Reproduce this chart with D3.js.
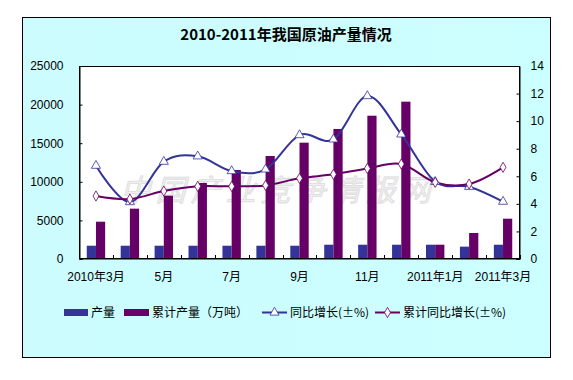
<!DOCTYPE html>
<html><head><meta charset="utf-8">
<script src="https://cdn.jsdelivr.net/npm/d3@7"></script>
<style>body{margin:0;background:#fff}svg{display:block}</style>
</head><body>
<svg id="c" width="573" height="380"></svg>
<script>
const categories = ["2010年3月","4月","5月","6月","7月","8月","9月","10月","11月","12月","2011年1月","2月","2011年3月"];
const tickLabels = ["2010年3月","","5月","","7月","","9月","","11月","","2011年1月","","2011年3月"];
const output = [1720,1720,1720,1720,1720,1720,1720,1850,1850,1850,1850,1600,1850];
const cumOutput = [4830,6520,8200,9850,11530,13340,15070,16840,18560,20380,1850,3370,5220];
const yoy = [6.77,4.13,7.06,7.45,6.38,6.5,8.99,8.68,11.82,9.04,5.6,5.24,4.16];
const cumYoy = [4.57,4.35,4.93,5.27,5.27,5.34,5.85,6.14,6.57,6.89,5.56,5.44,6.65];
const leftTicks = [0,5000,10000,15000,20000,25000];
const rightTicks = [0,2,4,6,8,10,12,14];
const title = "2010-2011年我国原油产量情况";
const seriesNames = ["产量","累计产量（万吨）","同比增长(±%)","累计同比增长(±%)"];

const svg = d3.select("#c");
const blue = "#333399", purple = "#660066";
const cjkFont = "Arial, 'Noto Sans CJK SC', sans-serif";

// frame
const defs = svg.append("defs");
const g1 = defs.append("linearGradient").attr("id","bg").attr("x1","0").attr("x2","1").attr("y1","0").attr("y2","0");
g1.append("stop").attr("offset","0").attr("stop-color","#ccfcfe");
g1.append("stop").attr("offset","1").attr("stop-color","#ccffff");
svg.append("rect").attr("x",22.5).attr("y",17.5).attr("width",528).attr("height",340)
  .attr("fill","url(#bg)").attr("stroke","#000").attr("stroke-width",1);

svg.append("text").attr("x",286).attr("y",40).attr("text-anchor","middle")
  .attr("font-family","'Noto Sans CJK SC', sans-serif").attr("font-weight","bold").attr("font-size",15)
  .text(title);

const L=79, R=520, T=66, B=259;
svg.append("rect").attr("x",L).attr("y",T).attr("width",R-L).attr("height",B-T).attr("fill","#fff");

const x = d3.scaleBand().domain(categories).range([L,R]).paddingInner(0).paddingOuter(0);
const yl = d3.scaleLinear().domain([0,25000]).range([B,T]);
const yr = d3.scaleLinear().domain([0,14]).range([B,T]);

// watermark
svg.append("text").attr("x",278).attr("y",201).attr("text-anchor","middle")
  .attr("font-family","'Noto Sans CJK SC', sans-serif").attr("font-size",30).attr("font-style","italic")
  .attr("letter-spacing",5).attr("fill","#f0f0f0").attr("stroke","#dcdcdc").attr("stroke-width",0.8)
  .text("中国产业竞争情报网");

const bw = 9.2;
const bars = svg.append("g");
bars.selectAll(".b1").data(output).join("rect")
  .attr("x",(d,i)=>x(categories[i])+x.bandwidth()/2-bw).attr("width",bw)
  .attr("y",d=>yl(d)).attr("height",d=>B-yl(d)).attr("fill",blue);
bars.selectAll(".b2").data(cumOutput).join("rect")
  .attr("x",(d,i)=>x(categories[i])+x.bandwidth()/2).attr("width",bw)
  .attr("y",d=>yl(d)).attr("height",d=>B-yl(d)).attr("fill",purple);

const cx = i => x(categories[i])+x.bandwidth()/2;
const line = d3.line().x((d,i)=>cx(i)).y(d=>yr(d)).curve(d3.curveCatmullRom.alpha(0));
svg.append("path").datum(yoy).attr("d",line).attr("fill","none").attr("stroke",blue).attr("stroke-width",2);
svg.append("path").datum(cumYoy).attr("d",line).attr("fill","none").attr("stroke",purple).attr("stroke-width",2);

const tri = d3.symbol().type(d3.symbolTriangle).size(36);
const dia = d3.symbol().type(d3.symbolDiamond).size(30);
svg.selectAll(".t").data(yoy).join("path").attr("d",tri)
  .attr("transform",(d,i)=>`translate(${cx(i)},${yr(d)})`).attr("fill","#fff").attr("stroke",blue).attr("stroke-width",0.8);
svg.selectAll(".dm").data(cumYoy).join("path").attr("d",dia)
  .attr("transform",(d,i)=>`translate(${cx(i)},${yr(d)})`).attr("fill","#fff").attr("stroke",purple).attr("stroke-width",0.8);

// plot border
svg.append("rect").attr("x",L+0.5).attr("y",T+0.5).attr("width",R-L-1).attr("height",B-T-1)
  .attr("fill","none").attr("stroke","#000").attr("stroke-width",1);

// axes
const ax = svg.append("g").attr("transform",`translate(${L+0.5},0)`)
  .call(d3.axisLeft(yl).tickValues(leftTicks).tickSize(-3).tickPadding(16).tickFormat(d3.format("d")));
const ar = svg.append("g").attr("transform",`translate(${R-0.5},0)`)
  .call(d3.axisRight(yr).tickValues(rightTicks).tickSize(-3).tickPadding(11));
const xb = svg.append("g").attr("transform",`translate(0,${B-0.5})`)
  .call(d3.axisBottom(x).tickSize(0).tickPadding(16).tickFormat((d,i)=>tickLabels[i]));
[ax,ar,xb].forEach(a=>{a.select(".domain").attr("stroke","#000");
  a.selectAll("text").attr("font-family",cjkFont).attr("font-size",12).attr("fill","#000");});
xb.selectAll("text").attr("dy","0.5em");
// x ticks at band boundaries
svg.append("g").selectAll("line").data(categories.concat(["end"])).join("line")
  .attr("x1",(d,i)=>Math.round(L+i*x.step())+0.5).attr("x2",(d,i)=>Math.round(L+i*x.step())+0.5)
  .attr("y1",B).attr("y2",B-4).attr("stroke","#000");

// legend
const lg = svg.append("g").attr("font-family","'Noto Sans CJK SC', sans-serif").attr("font-size",12);
lg.append("rect").attr("x",64).attr("y",309).attr("width",24).attr("height",7).attr("fill",blue);
lg.append("text").attr("x",91).attr("y",317).text(seriesNames[0]);
lg.append("rect").attr("x",124).attr("y",309).attr("width",25).attr("height",7).attr("fill",purple);
lg.append("text").attr("x",152).attr("y",317).text(seriesNames[1]);
lg.append("line").attr("x1",262).attr("x2",287).attr("y1",312.5).attr("y2",312.5).attr("stroke",blue).attr("stroke-width",2);
lg.append("path").attr("d",tri).attr("transform","translate(274.5,312.5)").attr("fill","#fff").attr("stroke",blue).attr("stroke-width",0.8);
lg.append("text").attr("x",290).attr("y",317).text(seriesNames[2]);
lg.append("line").attr("x1",375).attr("x2",400).attr("y1",312.5).attr("y2",312.5).attr("stroke",purple).attr("stroke-width",2);
lg.append("path").attr("d",dia).attr("transform","translate(387.5,312.5)").attr("fill","#fff").attr("stroke",purple).attr("stroke-width",0.8);
lg.append("text").attr("x",403).attr("y",317).text(seriesNames[3]);
</script>
</body></html>
